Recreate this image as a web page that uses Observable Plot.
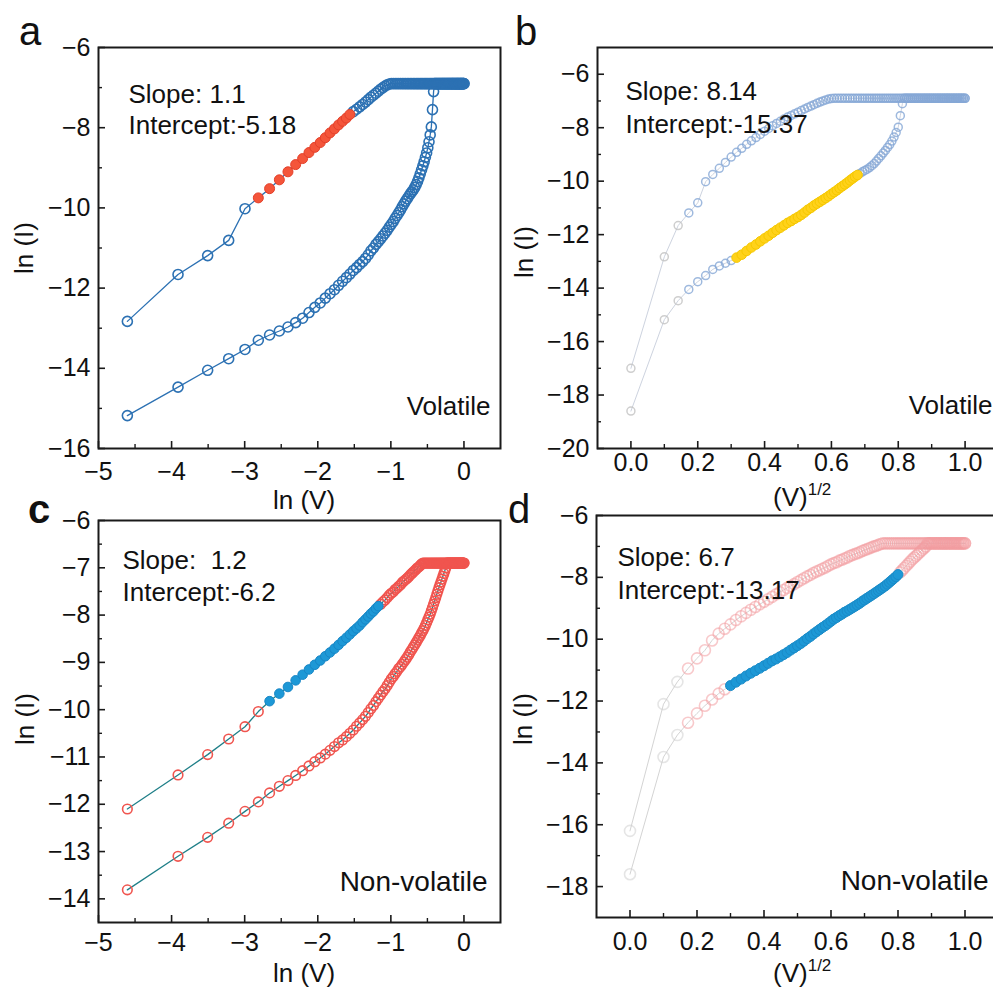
<!DOCTYPE html>
<html><head><meta charset="utf-8">
<script src="https://cdn.jsdelivr.net/npm/d3@7"></script>
<script src="https://cdn.jsdelivr.net/npm/@observablehq/plot@0.6"></script>
<style>
html,body{margin:0;padding:0;background:#fff;}
#fig{position:relative;width:993px;height:992px;overflow:hidden;background:#fff;font-family:"Liberation Sans",Arial,sans-serif;color:#111;}
#fig svg{position:absolute;}
.t{position:absolute;font-size:26px;line-height:1;white-space:nowrap;}
.L{position:absolute;font-size:40px;line-height:1;}
.sup{font-size:17px;position:relative;top:-11px;}
</style></head><body>
<div id="fig"></div>
<script>
// ---------------- data ----------------
// sweep voltages (V)
const V = [
0.01,0.02,0.03,0.04,0.05,0.06,0.07,0.08,0.09,0.10,
0.11,0.12,0.13,0.14,0.15,0.16,0.17,0.18,0.19,0.20,
0.21,0.22,0.23,0.24,0.25,0.26,0.27,0.28,0.29,0.30,
0.31,0.32,0.33,0.34,0.35,0.36,0.37,0.38,0.39,0.40,
0.41,0.42,0.43,0.44,0.45,0.46,0.47,0.48,0.49,0.50,
0.51,0.52,0.53,0.54,0.55,0.56,0.57,0.58,0.59,0.60,
0.61,0.62,0.63,0.64,0.65,0.66,0.67,0.68,0.69,0.70,
0.71,0.72,0.73,0.74,0.75,0.76,0.77,0.78,0.79,0.80,
0.81,0.82,0.83,0.84,0.85,0.86,0.87,0.88,0.89,0.90,
0.91,0.92,0.93,0.94,0.95,0.96,0.97,0.98,0.99,1.00];

// Volatile device: ln(I) on forward (upper) and backward (lower) sweep
const volFwd = [
-12.83,-11.66,-11.19,-10.81,-10.02,-9.75,-9.52,-9.30,-9.10,-8.92,
-8.77,-8.62,-8.49,-8.37,-8.25,-8.13,-8.03,-7.93,-7.84,-7.76,
-7.67,-7.60,-7.54,-7.48,-7.42,-7.36,-7.30,-7.24,-7.19,-7.14,
-7.09,-7.04,-7.00,-6.96,-6.93,-6.91,-6.90,-6.90,-6.90,-6.90,
-6.90,-6.90,-6.90,-6.90,-6.90,-6.90,-6.90,-6.90,-6.90,-6.90,
-6.90,-6.90,-6.90,-6.90,-6.90,-6.90,-6.90,-6.90,-6.90,-6.90,
-6.90,-6.90,-6.90,-6.90,-6.90,-6.90,-6.90,-6.90,-6.90,-6.90,
-6.90,-6.90,-6.90,-6.90,-6.90,-6.90,-6.90,-6.90,-6.90,-6.90,
-6.90,-6.90,-6.90,-6.90,-6.90,-6.90,-6.90,-6.90,-6.90,-6.90,
-6.90,-6.90,-6.90,-6.90,-6.90,-6.90,-6.90,-6.90,-6.90,-6.90];
const volBwd = [
-15.18,-14.47,-14.05,-13.76,-13.53,-13.30,-13.17,-13.07,-12.97,-12.86,
-12.75,-12.61,-12.48,-12.37,-12.25,-12.14,-12.04,-11.93,-11.83,-11.74,
-11.65,-11.56,-11.49,-11.41,-11.34,-11.26,-11.17,-11.07,-11.00,-10.91,
-10.84,-10.77,-10.70,-10.63,-10.56,-10.48,-10.41,-10.34,-10.26,-10.19,
-10.12,-10.05,-9.97,-9.90,-9.83,-9.77,-9.71,-9.65,-9.60,-9.55,
-9.49,-9.42,-9.34,-9.25,-9.15,-9.05,-8.95,-8.85,-8.74,-8.63,
-8.50,-8.35,-8.18,-7.98,-7.55,-7.10,-6.90,-6.90,-6.90,-6.90,
-6.90,-6.90,-6.90,-6.90,-6.90,-6.90,-6.90,-6.90,-6.90,-6.90,
-6.90,-6.90,-6.90,-6.90,-6.90,-6.90,-6.90,-6.90,-6.90,-6.90,
-6.90,-6.90,-6.90,-6.90,-6.90,-6.90,-6.90,-6.90,-6.90,-6.90];
// ln(I) at 0 V (forward start, backward end), shown only on the (V)^1/2 axes
const volZero = [-17.0, -18.6];

// Non-volatile device
const nvFwd = [
-12.10,-11.38,-10.95,-10.62,-10.36,-10.04,-9.82,-9.66,-9.52,-9.38,
-9.26,-9.15,-9.05,-8.96,-8.87,-8.79,-8.71,-8.63,-8.55,-8.48,
-8.41,-8.34,-8.28,-8.22,-8.15,-8.09,-8.03,-7.97,-7.92,-7.86,
-7.81,-7.77,-7.72,-7.68,-7.63,-7.58,-7.54,-7.51,-7.46,-7.43,
-7.39,-7.36,-7.31,-7.28,-7.25,-7.22,-7.19,-7.15,-7.12,-7.09,
-7.06,-7.03,-7.00,-6.98,-6.95,-6.92,-6.90,-6.90,-6.90,-6.90,
-6.90,-6.90,-6.90,-6.90,-6.90,-6.90,-6.90,-6.90,-6.90,-6.90,
-6.90,-6.90,-6.90,-6.90,-6.90,-6.90,-6.90,-6.90,-6.90,-6.90,
-6.90,-6.90,-6.90,-6.90,-6.90,-6.90,-6.90,-6.90,-6.90,-6.90,
-6.90,-6.90,-6.90,-6.90,-6.90,-6.90,-6.90,-6.90,-6.90,-6.90];
const nvBwd = [
-13.81,-13.10,-12.70,-12.40,-12.15,-11.95,-11.76,-11.62,-11.50,-11.39,
-11.29,-11.19,-11.10,-11.02,-10.94,-10.86,-10.78,-10.70,-10.64,-10.57,
-10.50,-10.43,-10.35,-10.28,-10.21,-10.14,-10.06,-9.98,-9.91,-9.83,
-9.76,-9.69,-9.62,-9.56,-9.49,-9.42,-9.35,-9.30,-9.24,-9.19,
-9.13,-9.09,-9.04,-8.99,-8.94,-8.89,-8.84,-8.78,-8.73,-8.68,
-8.63,-8.58,-8.53,-8.48,-8.43,-8.38,-8.33,-8.28,-8.22,-8.16,
-8.10,-8.04,-7.98,-7.91,-7.84,-7.77,-7.70,-7.63,-7.56,-7.49,
-7.42,-7.36,-7.30,-7.24,-7.18,-7.12,-7.06,-7.00,-6.90,-6.90,
-6.90,-6.90,-6.90,-6.90,-6.90,-6.90,-6.90,-6.90,-6.90,-6.90,
-6.90,-6.90,-6.90,-6.90,-6.90,-6.90,-6.90,-6.90,-6.90,-6.90];
const nvZero = [-16.2, -17.6];

// fitted voltage windows (V) highlighted in each panel
const fitA = [0.06, 0.21];   // forward sweep, red
const fitB = [0.10, 0.46];   // backward sweep, yellow
const fitC = [0.07, 0.31];   // forward sweep, blue
const fitD = [0.09, 0.64];   // backward sweep, blue

// annotations
const annA = ["Slope: 1.1", "Intercept:-5.18", "Volatile"];
const annB = ["Slope: 8.14", "Intercept:-15.37", "Volatile"];
const annC = ["Slope:  1.2", "Intercept:-6.2", "Non-volatile"];
const annD = ["Slope: 6.7", "Intercept:-13.17", "Non-volatile"];

// ticks
const lnTicks = [-5,-4,-3,-2,-1,0];
const lnMinor = [-4.5,-3.5,-2.5,-1.5,-0.5];
const sqTicks = [0,0.2,0.4,0.6,0.8,1.0];
const sqMinor = [0.1,0.3,0.5,0.7,0.9];
const yTicksA = [-16,-14,-12,-10,-8,-6];
const yMinorA = [-15,-13,-11,-9,-7];
const yTicksB = [-20,-18,-16,-14,-12,-10,-8,-6];
const yMinorB = [-19,-17,-15,-13,-11,-9,-7];
const yTicksC = [-14,-13,-12,-11,-10,-9,-8,-7,-6];
const yMinorC = [-13.5,-12.5,-11.5,-10.5,-9.5,-8.5,-7.5,-6.5];
const yTicksD = [-18,-16,-14,-12,-10,-8,-6];
const yMinorD = [-17,-15,-13,-11,-9,-7];

// ---------------- build ----------------
const pts = (I) => V.map((v, i) => ({V: v, I: I[i]}));
const aF = pts(volFwd), aB = pts(volBwd);
const bF = [{V: 0, I: volZero[0]}, ...aF], bB = [{V: 0, I: volZero[1]}, ...aB];
const cF = pts(nvFwd), cB = pts(nvBwd);
const dF = [{V: 0, I: nvZero[0]}, ...cF], dB = [{V: 0, I: nvZero[1]}, ...cB];
const inR = (r) => (d) => d.V >= r[0] - 1e-9 && d.V <= r[1] + 1e-9;
const outR = (r) => (d) => !inR(r)(d);
const lnx = (d) => Math.log(d.V);
const sqx = (d) => Math.sqrt(d.V);
const FONT = "'Liberation Sans', Arial, sans-serif";
const fig = document.getElementById("fig");

function panel(o) {
  const pw = o.width - o.ml - o.mr, ph = o.height - o.mt - o.mb;
  const k = "#1a1a1a";
  const svg = Plot.plot({
    width: o.width, height: o.height,
    marginTop: o.mt, marginBottom: o.mb, marginLeft: o.ml, marginRight: o.mr,
    x: {domain: o.xd, label: null},
    y: {domain: o.yd, label: null},
    style: {background: "transparent", fontFamily: FONT, color: "#111", overflow: "visible"},
    marks: [
      ...o.marks,
      Plot.frame({stroke: k, strokeWidth: 2}),
      Plot.tickX(o.xt, {stroke: k, strokeWidth: 1.6, insetTop: ph - 7}),
      Plot.tickX(o.xm, {stroke: k, strokeWidth: 1.4, insetTop: ph - 4}),
      Plot.tickY(o.yt, {stroke: k, strokeWidth: 1.6, insetRight: pw - 7}),
      Plot.tickY(o.ym, {stroke: k, strokeWidth: 1.4, insetRight: pw - 4}),
      Plot.axisX({ticks: o.xt, tickFormat: o.xf, tickSize: 0, tickPadding: o.xpad, fontSize: 25, label: null}),
      Plot.axisY({ticks: o.yt, tickFormat: d3.format("d"), tickSize: 0, tickPadding: 8, fontSize: 25, label: null}),
      Plot.text([o.ann[0]], {text: d => d, frameAnchor: "top-left", textAnchor: "start", dx: o.tx, dy: o.ty1, fontSize: 26, fill: "#111"}),
      Plot.text([o.ann[1]], {text: d => d, frameAnchor: "top-left", textAnchor: "start", dx: o.tx, dy: o.ty2, fontSize: 26, fill: "#111"}),
      Plot.text([o.ann[2]], {text: d => d, frameAnchor: "bottom-right", textAnchor: "end", dx: o.bx, dy: o.by, fontSize: o.bfs, fill: "#111"})
    ]
  });
  svg.style.left = o.left + "px";
  svg.style.top = o.top + "px";
  fig.appendChild(svg);
}

const BLUE = "#2c71b3";
const RED = "#f0554f";
const TEAL = "#1f7f88";
const SKY = "#1d98d6";

// panel a
panel({
  left: 0, top: 0, width: 505, height: 490, mt: 47, mb: 42, ml: 98, mr: 5,
  xd: [-5, 0.5], yd: [-16, -6], xt: lnTicks, xm: lnMinor, yt: yTicksA, ym: yMinorA,
  xf: d3.format("d"), xpad: 14, ann: annA, tx: 30, ty1: 37, ty2: 68, bx: -10, by: -34, bfs: 26,
  marks: [
    Plot.line(aF, {x: lnx, y: "I", stroke: BLUE, strokeWidth: 1.3}),
    Plot.line(aB, {x: lnx, y: "I", stroke: BLUE, strokeWidth: 1.3}),
    Plot.dot(aB, {x: lnx, y: "I", r: 5, stroke: BLUE, strokeWidth: 1.6, fill: "none"}),
    Plot.dot(aF.filter(outR(fitA)), {x: lnx, y: "I", r: 5, stroke: BLUE, strokeWidth: 1.6, fill: "none"}),
    Plot.dot(aF.filter(inR(fitA)), {x: lnx, y: "I", r: 5, fill: "#f4553a", stroke: "#e4402a", strokeWidth: 1})
  ]
});

// panel b
const bLine = "#cdd3df", bDot = "#86a8d6", bGrey = "#c2c2c2";
const bCol = (d) => d.V <= 0.02 ? bGrey : bDot;
panel({
  left: 500, top: 0, width: 503, height: 490, mt: 47, mb: 42, ml: 97, mr: 5,
  xd: [-0.1, 1.1], yd: [-20, -5], xt: sqTicks, xm: sqMinor, yt: yTicksB, ym: yMinorB,
  xf: d3.format(".1f"), xpad: 5, ann: annB, tx: 28, ty1: 34, ty2: 67, bx: -6, by: -35, bfs: 26,
  marks: [
    Plot.line(bF, {x: sqx, y: "I", stroke: bLine, strokeWidth: 1}),
    Plot.line(bB, {x: sqx, y: "I", stroke: bLine, strokeWidth: 1}),
    Plot.dot(bF, {x: sqx, y: "I", r: 4, stroke: bCol, strokeOpacity: 0.8, strokeWidth: 1.5, fill: "none"}),
    Plot.dot(bB.filter(outR(fitB)), {x: sqx, y: "I", r: 4, stroke: bCol, strokeOpacity: 0.8, strokeWidth: 1.5, fill: "none"}),
    Plot.dot(bB.filter(inR(fitB)), {x: sqx, y: "I", r: 4.8, fill: "#ffd21a", stroke: "#f6c800", strokeWidth: 1})
  ]
});

// panel c
panel({
  left: 0, top: 490, width: 505, height: 500, mt: 30, mb: 68, ml: 98, mr: 5,
  xd: [-5, 0.5], yd: [-14.5, -6], xt: lnTicks, xm: lnMinor, yt: yTicksC, ym: yMinorC,
  xf: d3.format("d"), xpad: 11, ann: annC, tx: 24, ty1: 30, ty2: 62, bx: -13, by: -32, bfs: 28,
  marks: [
    Plot.line(cF, {x: lnx, y: "I", stroke: TEAL, strokeWidth: 1.3}),
    Plot.line(cB, {x: lnx, y: "I", stroke: TEAL, strokeWidth: 1.3}),
    Plot.dot(cB, {x: lnx, y: "I", r: 4.8, stroke: RED, strokeWidth: 1.6, fill: "none"}),
    Plot.dot(cF.filter(outR(fitC)), {x: lnx, y: "I", r: 4.8, stroke: RED, strokeWidth: 1.6, fill: "none"}),
    Plot.dot(cF.filter(inR(fitC)), {x: lnx, y: "I", r: 4.8, fill: SKY, stroke: "#1786c6", strokeWidth: 1})
  ]
});

// panel d
const dLine = "#d4d4d4", dDot = "#f39ca0", dGrey = "#d0d0d0";
const dCol = (d) => d.V <= 0.02 ? dGrey : dDot;
panel({
  left: 500, top: 490, width: 503, height: 500, mt: 25, mb: 73, ml: 96, mr: 5,
  xd: [-0.1, 1.1], yd: [-19, -6], xt: sqTicks, xm: sqMinor, yt: yTicksD, ym: yMinorD,
  xf: d3.format(".1f"), xpad: 15, ann: annD, tx: 21, ty1: 32, ty2: 65, bx: -10, by: -28, bfs: 28,
  marks: [
    Plot.line(dF, {x: sqx, y: "I", stroke: dLine, strokeWidth: 1}),
    Plot.line(dB, {x: sqx, y: "I", stroke: dLine, strokeWidth: 1}),
    Plot.dot(dF, {x: sqx, y: "I", r: 5.5, stroke: dCol, strokeOpacity: 0.55, strokeWidth: 1.6, fill: "none"}),
    Plot.dot(dB.filter(outR(fitD)), {x: sqx, y: "I", r: 5.5, stroke: dCol, strokeOpacity: 0.55, strokeWidth: 1.6, fill: "none"}),
    Plot.dot(dB.filter(inR(fitD)), {x: sqx, y: "I", r: 5, fill: SKY, stroke: "#1a8bc8", strokeWidth: 1})
  ]
});

// ---------------- titles & panel letters ----------------
const labels = [
  {html: "a", cls: "L", left: 19, top: 11},
  {html: "b", cls: "L", left: 515, top: 11},
  {html: "<b>c</b>", cls: "L", left: 28, top: 489},
  {html: "d", cls: "L", left: 508, top: 489},
  {html: "ln (V)", cls: "t", left: 273, top: 487},
  {html: "ln (V)", cls: "t", left: 273, top: 960},
  {html: "(V)<span class='sup'>1/2</span>", cls: "t", left: 773, top: 484},
  {html: "(V)<span class='sup'>1/2</span>", cls: "t", left: 773, top: 960}
];
for (const l of labels) {
  const el = document.createElement("div");
  el.className = l.cls; el.innerHTML = l.html;
  el.style.left = l.left + "px"; el.style.top = l.top + "px";
  fig.appendChild(el);
}
const ylabels = [[24, 248], [524, 252], [25, 719], [523, 719]];
for (const [cx, cy] of ylabels) {
  const el = document.createElement("div");
  el.className = "t"; el.textContent = "ln (I)";
  el.style.left = cx + "px"; el.style.top = cy + "px";
  el.style.transform = "translate(-50%,-50%) rotate(-90deg)";
  fig.appendChild(el);
}
</script>
</body></html>
